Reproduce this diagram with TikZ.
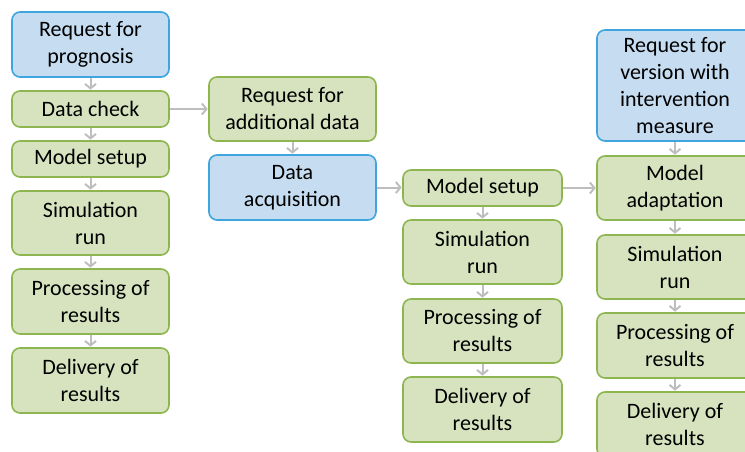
\documentclass[tikz,border=0pt]{standalone}
\usepackage{fontspec}
\setmainfont{Carlito}
\usetikzlibrary{arrows.meta}
\definecolor{gfill}{RGB}{215,227,191}
\definecolor{gdraw}{RGB}{142,182,80}
\definecolor{bfill}{RGB}{198,221,241}
\definecolor{bdraw}{RGB}{62,165,222}
\definecolor{arr}{RGB}{190,190,190}
\tikzset{
  box/.style={rectangle, rounded corners=8pt, line width=1.6pt, align=center,
    inner sep=0pt, font=\fontsize{22}{27}\selectfont, text=black},
  gbox/.style={box, fill=gfill, draw=gdraw},
  bbox/.style={box, fill=bfill, draw=bdraw},
  conn/.style={draw=arr, line width=2pt, -{Straight Barb[length=4.5pt,width=11pt,line width=2pt]}, shorten >=0.5pt},
}
\begin{document}
\begin{tikzpicture}[x=1pt,y=-1pt]
\useasboundingbox (0,0) rectangle (745,452);
\clip (0,0) rectangle (745,452);
% column 1
\node[bbox, minimum width=157pt, minimum height=65pt] (rp) at (90.5,44.5) {Request for\\prognosis};
\node[gbox, minimum width=157pt, minimum height=36pt] (dc) at (90.5,109) {Data check};
\node[gbox, minimum width=157pt, minimum height=36pt] (ms1) at (90.5,159) {Model setup};
\node[gbox, minimum width=157pt, minimum height=64pt] (sr1) at (90.5,223) {Simulation\\run};
\node[gbox, minimum width=157pt, minimum height=65pt] (pr1) at (90.5,301.5) {Processing of\\results};
\node[gbox, minimum width=157pt, minimum height=65pt] (dl1) at (90.5,380.5) {Delivery of\\results};
% column 2
\node[gbox, minimum width=167pt, minimum height=64pt] (ra) at (292.5,109) {Request for\\additional data};
\node[bbox, minimum width=167pt, minimum height=65pt] (da) at (292.5,187.5) {Data\\acquisition};
% column 3
\node[gbox, minimum width=159pt, minimum height=36pt] (ms3) at (482.5,188) {Model setup};
\node[gbox, minimum width=159pt, minimum height=64pt] (sr3) at (482.5,252) {Simulation\\run};
\node[gbox, minimum width=159pt, minimum height=64pt] (pr3) at (482.5,331) {Processing of\\results};
\node[gbox, minimum width=159pt, minimum height=65pt] (dl3) at (482.5,409.5) {Delivery of\\results};
% column 4
\node[bbox, minimum width=156pt, minimum height=111pt] (rv) at (675,85.5) {Request for\\version with\\intervention\\measure};
\node[gbox, minimum width=156pt, minimum height=64pt] (ma) at (675,188) {Model\\adaptation};
\node[gbox, minimum width=156pt, minimum height=64pt] (sr4) at (675,267) {Simulation\\run};
\node[gbox, minimum width=156pt, minimum height=65pt] (pr4) at (675,345.5) {Processing of\\results};
\node[gbox, minimum width=156pt, minimum height=65pt] (dl4) at (675,424.5) {Delivery of\\results};
% connectors
\draw[conn] (rp) -- (dc);
\draw[conn] (dc) -- (ms1);
\draw[conn] (ms1) -- (sr1);
\draw[conn] (sr1) -- (pr1);
\draw[conn] (pr1) -- (dl1);
\draw[conn] (dc) -- (ra);
\draw[conn] (ra) -- (da);
\draw[conn] (da.east) -- (da.east -| ms3.west);
\draw[conn] (ms3) -- (sr3);
\draw[conn] (sr3) -- (pr3);
\draw[conn] (pr3) -- (dl3);
\draw[conn] (ms3.east) -- (ms3.east -| ma.west);
\draw[conn] (rv) -- (ma);
\draw[conn] (ma) -- (sr4);
\draw[conn] (sr4) -- (pr4);
\draw[conn] (pr4) -- (dl4);
\end{tikzpicture}
\end{document}
